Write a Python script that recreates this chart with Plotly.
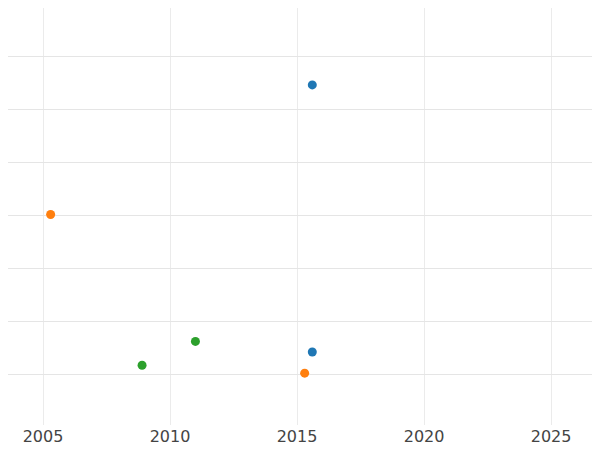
import plotly.graph_objects as go

years_a = [2015.6, 2015.6]
vals_a = [6.47, 1.42]
years_b = [2005.3, 2015.3]
vals_b = [4.02, 1.02]
years_c = [2008.9, 2011.0]
vals_c = [1.17, 1.62]

fig = go.Figure()
for xs, ys, c in [(years_a, vals_a, "#1f77b4"), (years_b, vals_b, "#ff7f0e"), (years_c, vals_c, "#2ca02c")]:
    fig.add_trace(go.Scatter(x=xs, y=ys, mode="markers", marker=dict(color=c, size=9), showlegend=False))

fig.update_layout(
    width=600, height=450, margin=dict(l=0, r=0, t=0, b=33),
    plot_bgcolor="white", paper_bgcolor="white",
    font=dict(family="DejaVu Sans", size=16, color="#444"),
    xaxis=dict(range=[2003.622, 2027.24], tickvals=[2005, 2010, 2015, 2020, 2025],
               gridcolor="#ebebeb", zeroline=False, showline=False),
    yaxis=dict(range=[0.04, 7.924], dtick=1, showticklabels=False,
               gridcolor="#e5e5e5", zeroline=False, showline=False),
)
fig.write_html("out.html")
